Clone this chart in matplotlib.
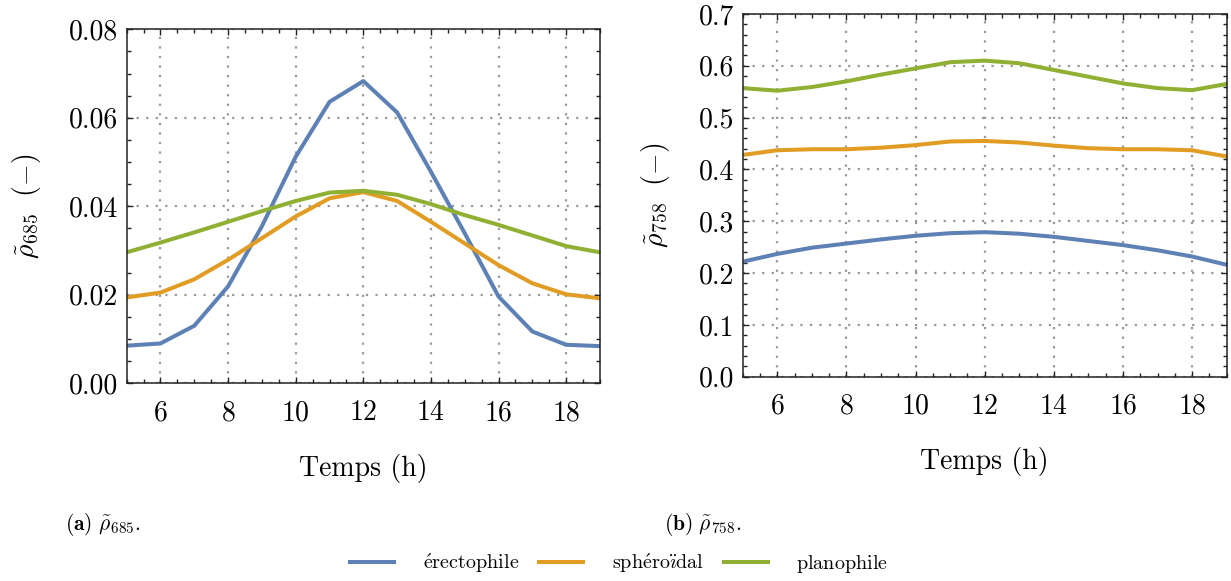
import matplotlib
matplotlib.use("Agg")
import matplotlib.pyplot as plt
from matplotlib.ticker import MultipleLocator, FormatStrFormatter

plt.rcParams['mathtext.fontset'] = 'cm'
plt.rcParams['font.family'] = 'serif'
plt.rcParams['font.serif'] = ['cmr10']
plt.rcParams['axes.formatter.use_mathtext'] = True

hours = [5, 6, 7, 8, 9, 10, 11, 12, 13, 14, 15, 16, 17, 18, 19]

# rho_685
r685_erecto = [0.0085, 0.0090, 0.0130, 0.0219, 0.0355, 0.0512, 0.0636, 0.0683,
               0.0612, 0.0478, 0.0339, 0.0196, 0.0117, 0.0087, 0.0084]
r685_spher = [0.0194, 0.0205, 0.0235, 0.0279, 0.0328, 0.0377, 0.0418, 0.0432,
              0.0412, 0.0365, 0.0316, 0.0267, 0.0226, 0.0201, 0.0192]
r685_plano = [0.0296, 0.0318, 0.0341, 0.0365, 0.0389, 0.0412, 0.0431, 0.0435,
              0.0426, 0.0405, 0.0380, 0.0358, 0.0334, 0.0310, 0.0296]

# rho_758
r758_erecto = [0.222, 0.237, 0.249, 0.257, 0.265, 0.272, 0.277, 0.279,
               0.276, 0.270, 0.262, 0.254, 0.244, 0.232, 0.216]
r758_spher = [0.428, 0.437, 0.439, 0.439, 0.442, 0.447, 0.454, 0.455,
              0.452, 0.446, 0.441, 0.439, 0.439, 0.437, 0.425]
r758_plano = [0.557, 0.552, 0.559, 0.570, 0.583, 0.595, 0.607, 0.610,
              0.605, 0.592, 0.579, 0.566, 0.557, 0.553, 0.565]

labels = [r'$\mathrm{\acute{e}rectophile}$',
          r'$\mathrm{sph\acute{e}ro\ddot{\imath}dal}$',
          r'$\mathrm{planophile}$']
colors = ['#5E81B5', '#E19C24', '#8FB032']

fig = plt.figure(figsize=(12.31, 5.81), dpi=100)
ax1 = fig.add_axes([0.1029, 0.3403, 0.3845, 0.6093])
ax2 = fig.add_axes([0.6033, 0.3516, 0.3932, 0.6243])

def style(ax, ymax, ymaj, ymin, fmt):
    ax.set_xlim(5, 19)
    ax.set_ylim(0, ymax)
    ax.xaxis.set_major_locator(MultipleLocator(2))
    ax.xaxis.set_minor_locator(MultipleLocator(0.5))
    ax.yaxis.set_major_locator(MultipleLocator(ymaj))
    ax.yaxis.set_minor_locator(MultipleLocator(ymin))
    ax.yaxis.set_major_formatter(FormatStrFormatter(fmt))
    ax.tick_params(which='both', direction='in', top=True, right=True, width=1.0,
                   labelsize=20, color='#222222')
    ax.tick_params(which='major', length=4.5)
    ax.tick_params(which='minor', length=3.2)
    ax.tick_params(axis='x', which='major', pad=12)
    ax.tick_params(axis='y', which='major', pad=6)
    ax.grid(True, which='major', color='#999999', linestyle=(0, (1, 3.3)), linewidth=1.6)
    ax.set_axisbelow(True)
    for s in ax.spines.values():
        s.set_linewidth(1.1)
        s.set_color('#222222')
    ax.set_xlabel('Temps (h)', fontsize=20, labelpad=20)

lines = []
for ys, c, lab in zip([r685_erecto, r685_spher, r685_plano], colors, labels):
    l, = ax1.plot(hours, ys, color=c, lw=2.9, label=lab)
    lines.append(l)
for ys, c in zip([r758_erecto, r758_spher, r758_plano], colors):
    ax2.plot(hours, ys, color=c, lw=2.9)

style(ax1, 0.08, 0.02, 0.005, '%.2f')
style(ax2, 0.7, 0.1, 0.02, '%.1f')

ax1.set_ylabel(r'$\tilde{\rho}_{685}\ \ (-)$', fontsize=20, labelpad=19)
ax2.set_ylabel(r'$\tilde{\rho}_{758}\ \ (-)$', fontsize=20, labelpad=19)

fig.text(0.053, 0.098, r'$\mathbf{(a)}\ \tilde{\rho}_{685}.$', fontsize=15.5, va='center', ha='left')
fig.text(0.539, 0.098, r'$\mathbf{(b)}\ \tilde{\rho}_{758}.$', fontsize=15.5, va='center', ha='left')

fig.legend(handles=lines, loc='center', bbox_to_anchor=(0.503, 0.030), ncol=3,
           frameon=False, fontsize=14.5, handlelength=2.2, columnspacing=1.0,
           handletextpad=1.4)

fig.savefig('out.png', dpi=100)
